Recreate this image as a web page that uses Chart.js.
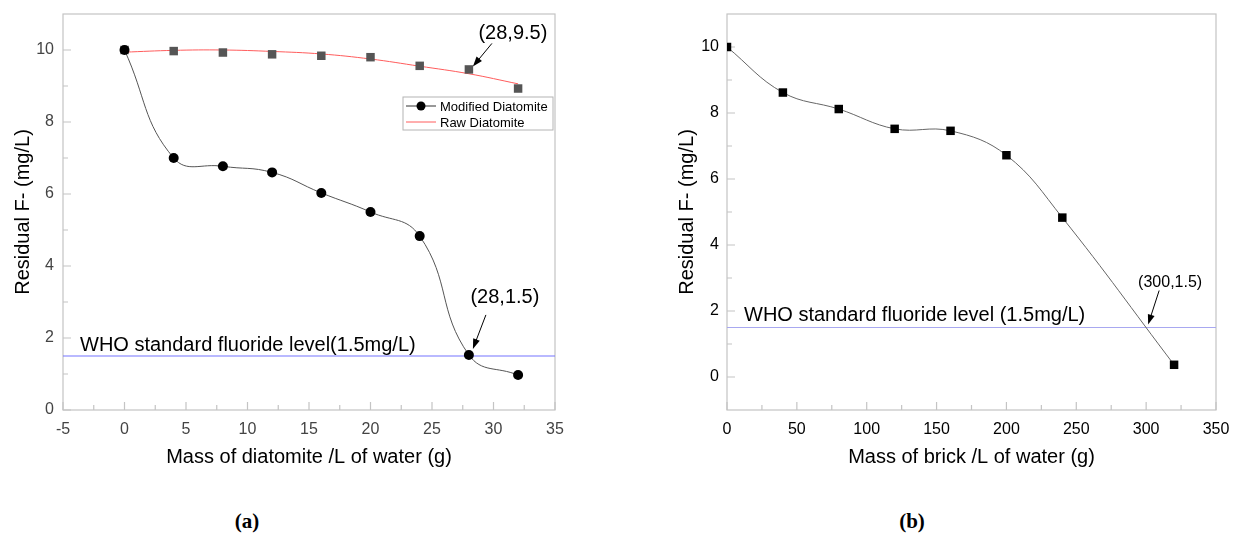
<!DOCTYPE html>
<html>
<head>
<meta charset="utf-8">
<script src="https://cdn.jsdelivr.net/npm/chart.js@4.4.1/dist/chart.umd.min.js"></script>
<style>
  body { margin: 0; background: #fff; width: 1235px; height: 549px; overflow: hidden; position: relative; }
  .panel { position: absolute; top: 0; height: 490px; }
  #panelA { left: 0; width: 620px; }
  #panelB { left: 620px; width: 615px; }
  .caption { position: absolute; top: 509px; width: 80px; text-align: center;
    font: bold 21px "Liberation Serif", "Times New Roman", serif; color: #000; }
</style>
</head>
<body>
<div class="panel" id="panelA"><canvas id="chartA" width="620" height="490"></canvas></div>
<div class="panel" id="panelB"><canvas id="chartB" width="615" height="490"></canvas></div>
<div class="caption" style="left:207px">(a)</div>
<div class="caption" style="left:872px">(b)</div>
<script>
// panel (a): diatomite
const diatomiteMass = [0, 4, 8, 12, 16, 20, 24, 28, 32];
const modifiedDiatomite = [10, 7.0, 6.77, 6.6, 6.03, 5.5, 4.83, 1.53, 0.97];
const rawDiatomite = [10, 9.97, 9.93, 9.88, 9.84, 9.8, 9.56, 9.46, 8.93];
const rawDiatomiteFit = [9.94, 9.99, 10.0, 9.96, 9.89, 9.75, 9.55, 9.34, 9.06];
const diatomiteXTicks = [-5, 0, 5, 10, 15, 20, 25, 30, 35];
const diatomiteYTicks = [0, 2, 4, 6, 8, 10];

// panel (b): brick
const brickMass = [0, 40, 80, 120, 160, 200, 240, 320];
const brickResidual = [10, 8.62, 8.12, 7.52, 7.46, 6.72, 4.83, 0.37];
const brickXTicks = [0, 50, 100, 150, 200, 250, 300, 350];
const brickYTicks = [0, 2, 4, 6, 8, 10];

const whoLimit = 1.5;

const FONT = '"Liberation Sans", Arial, sans-serif';
Chart.defaults.font.family = FONT;

function toPoints(xs, ys) {
  return xs.map((x, i) => ({ x: x, y: ys[i] }));
}

function arrow(ctx, x0, y0, x1, y1) {
  const ang = Math.atan2(y1 - y0, x1 - x0);
  ctx.beginPath();
  ctx.moveTo(x0, y0);
  ctx.lineTo(x1 - 6 * Math.cos(ang), y1 - 6 * Math.sin(ang));
  ctx.stroke();
  ctx.beginPath();
  ctx.moveTo(x1, y1);
  ctx.lineTo(x1 - 10 * Math.cos(ang) + 3.5 * Math.sin(ang), y1 - 10 * Math.sin(ang) - 3.5 * Math.cos(ang));
  ctx.lineTo(x1 - 10 * Math.cos(ang) - 3.5 * Math.sin(ang), y1 - 10 * Math.sin(ang) + 3.5 * Math.cos(ang));
  ctx.closePath();
  ctx.fill();
}

// box, inward ticks, notes and legend
const framePlugin = {
  id: 'frame',
  beforeDatasetsDraw(chart, args, opts) {
    const { ctx, chartArea: a, scales } = chart;
    ctx.save();
    ctx.strokeStyle = '#c4c4c4';
    ctx.lineWidth = 1.2;
    ctx.strokeRect(a.left, a.top, a.right - a.left, a.bottom - a.top);
    const xs = scales.x.ticks.map(t => t.value);
    const ys = scales.y.ticks.map(t => t.value);
    ctx.beginPath();
    xs.forEach((v, i) => {
      const px = scales.x.getPixelForValue(v);
      ctx.moveTo(px, a.bottom); ctx.lineTo(px, a.bottom - 8);
      if (i < xs.length - 1) {
        const pm = scales.x.getPixelForValue((v + xs[i + 1]) / 2);
        ctx.moveTo(pm, a.bottom); ctx.lineTo(pm, a.bottom - 5);
      }
    });
    ys.forEach((v, i) => {
      const py = scales.y.getPixelForValue(v);
      ctx.moveTo(a.left, py); ctx.lineTo(a.left + 8, py);
      const mids = [v + 1];
      if (i === 0 && v - 1 > scales.y.min) mids.push(v - 1);
      mids.forEach(m => {
        if (m < scales.y.max && m > scales.y.min) {
          const pm = scales.y.getPixelForValue(m);
          ctx.moveTo(a.left, pm); ctx.lineTo(a.left + 5, pm);
        }
      });
    });
    ctx.stroke();
    ctx.restore();
  },
  afterDatasetsDraw(chart, args, opts) {
    const { ctx, chartArea: a, scales } = chart;
    ctx.save();
    ctx.fillStyle = '#000';
    ctx.strokeStyle = '#000';
    ctx.lineWidth = 1;
    // WHO label
    const wy = scales.y.getPixelForValue(whoLimit);
    ctx.font = '20px ' + FONT;
    ctx.textAlign = 'left';
    ctx.textBaseline = 'alphabetic';
    ctx.fillText(opts.whoText, a.left + 17, wy - opts.whoGap);
    // point notes
    opts.notes.forEach(n => {
      const px = scales.x.getPixelForValue(n.x);
      const py = scales.y.getPixelForValue(n.y);
      ctx.font = n.size + 'px ' + FONT;
      ctx.textAlign = 'center';
      ctx.textBaseline = 'middle';
      ctx.fillText(n.text, px + n.dx, py + n.dy);
      arrow(ctx, px + n.a0[0], py + n.a0[1], px + n.a1[0], py + n.a1[1]);
    });
    // legend
    if (opts.legend) {
      const lx = a.right - 152, ly = a.top + 83;
      ctx.strokeStyle = '#b4b4b4';
      ctx.strokeRect(lx, ly, 150, 33);
      ctx.font = '13px ' + FONT;
      ctx.textAlign = 'left';
      ctx.textBaseline = 'middle';
      opts.legend.forEach((item, i) => {
        const yy = ly + 9 + i * 16;
        ctx.strokeStyle = item.color;
        ctx.lineWidth = 1;
        ctx.beginPath();
        ctx.moveTo(lx + 3, yy); ctx.lineTo(lx + 33, yy);
        ctx.stroke();
        if (item.dot) {
          ctx.beginPath();
          ctx.arc(lx + 18, yy, 4.5, 0, Math.PI * 2);
          ctx.fillStyle = '#000';
          ctx.fill();
        }
        ctx.fillStyle = '#000';
        ctx.fillText(item.label, lx + 37, yy + 1);
      });
    }
    ctx.restore();
  }
};

function makeAxis(ticks, min, max, title, opt) {
  return {
    type: 'linear',
    min: min,
    max: max,
    afterBuildTicks: s => { s.ticks = ticks.map(v => ({ value: v })); },
    afterFit: s => {
      if (opt.width) s.width = opt.width;
      if (opt.height) s.height = opt.height;
      s.paddingTop = 0;
      s.paddingBottom = 0;
      s.paddingLeft = 0;
      s.paddingRight = 0;
    },
    grid: { display: false, drawTicks: false },
    border: { display: false },
    ticks: { color: opt.tickColor, font: { size: 16 }, padding: opt.tickPad },
    title: { display: true, text: title, color: '#000', font: { size: 20 }, padding: opt.titlePad }
  };
}

const diatomiteChart = new Chart(document.getElementById('chartA'), {
  type: 'scatter',
  data: {
    datasets: [
      {
        label: 'Modified Diatomite',
        data: toPoints(diatomiteMass, modifiedDiatomite),
        showLine: true,
        borderColor: '#555',
        borderWidth: 1,
        tension: 0.45,
        pointRadius: 5,
        pointBackgroundColor: '#000',
        pointBorderColor: '#000',
        pointBorderWidth: 0
      },
      {
        label: 'Raw Diatomite points',
        data: toPoints(diatomiteMass, rawDiatomite),
        showLine: false,
        pointStyle: 'rect',
        pointRadius: 6,
        pointBackgroundColor: '#555',
        pointBorderColor: '#555',
        pointBorderWidth: 0
      },
      {
        label: 'Raw Diatomite',
        data: toPoints(diatomiteMass, rawDiatomiteFit),
        showLine: true,
        borderColor: '#ff5c5c',
        borderWidth: 1,
        tension: 0.4,
        pointRadius: 0
      },
      {
        label: 'WHO',
        data: [{ x: -5, y: whoLimit }, { x: 35, y: whoLimit }],
        showLine: true,
        borderColor: '#7474ff',
        borderWidth: 1.2,
        pointRadius: 0
      }
    ]
  },
  options: {
    responsive: false,
    animation: false,
    layout: { padding: { top: 14, right: 65, left: 0, bottom: 0 } },
    scales: {
      x: makeAxis(diatomiteXTicks, -5, 35, 'Mass of diatomite /L of water (g)',
        { height: 80, tickColor: '#444', tickPad: 10, titlePad: { bottom: 21 } }),
      y: makeAxis(diatomiteYTicks, 0, 11, 'Residual F- (mg/L)',
        { width: 63, tickColor: '#444', tickPad: 9, titlePad: { top: 11 } })
    },
    plugins: {
      legend: { display: false },
      tooltip: { enabled: false },
      frame: {
        whoText: 'WHO standard fluoride level(1.5mg/L)',
        whoGap: 5,
        notes: [
          { text: '(28,9.5)', x: 28, y: 9.46, size: 20, dx: 44, dy: -36, a0: [23, -26], a1: [4, -3] },
          { text: '(28,1.5)', x: 28, y: 1.53, size: 20, dx: 36, dy: -57, a0: [17, -40], a1: [4, -6] }
        ],
        legend: [
          { label: 'Modified Diatomite', color: '#333', dot: true },
          { label: 'Raw Diatomite', color: '#ff5c5c', dot: false }
        ]
      }
    }
  },
  plugins: [framePlugin]
});

const brickChart = new Chart(document.getElementById('chartB'), {
  type: 'scatter',
  data: {
    datasets: [
      {
        label: 'Brick',
        data: toPoints(brickMass, brickResidual),
        showLine: true,
        clip: 0,
        borderColor: '#666',
        borderWidth: 1,
        tension: 0.4,
        pointStyle: 'rect',
        pointRadius: 6,
        pointBackgroundColor: '#000',
        pointBorderColor: '#000',
        pointBorderWidth: 0
      },
      {
        label: 'WHO',
        data: [{ x: 0, y: whoLimit }, { x: 350, y: whoLimit }],
        showLine: true,
        borderColor: '#a8a8f0',
        borderWidth: 1.2,
        pointRadius: 0
      }
    ]
  },
  options: {
    responsive: false,
    animation: false,
    layout: { padding: { top: 14, right: 19, left: 0, bottom: 0 } },
    scales: {
      x: makeAxis(brickXTicks, 0, 350, 'Mass of brick /L of water (g)',
        { height: 80, tickColor: '#000', tickPad: 10, titlePad: { bottom: 21 } }),
      y: makeAxis(brickYTicks, -1, 11, 'Residual F- (mg/L)',
        { width: 107, tickColor: '#000', tickPad: 8, titlePad: { top: 55 } })
    },
    plugins: {
      legend: { display: false },
      tooltip: { enabled: false },
      frame: {
        whoText: 'WHO standard fluoride level (1.5mg/L)',
        whoGap: 7,
        notes: [
          { text: '(300,1.5)', x: 300, y: whoLimit, size: 16, dx: 24, dy: -45, a0: [13, -37], a1: [2, -3] }
        ],
        legend: null
      }
    }
  },
  plugins: [framePlugin]
});
</script>
</body>
</html>
